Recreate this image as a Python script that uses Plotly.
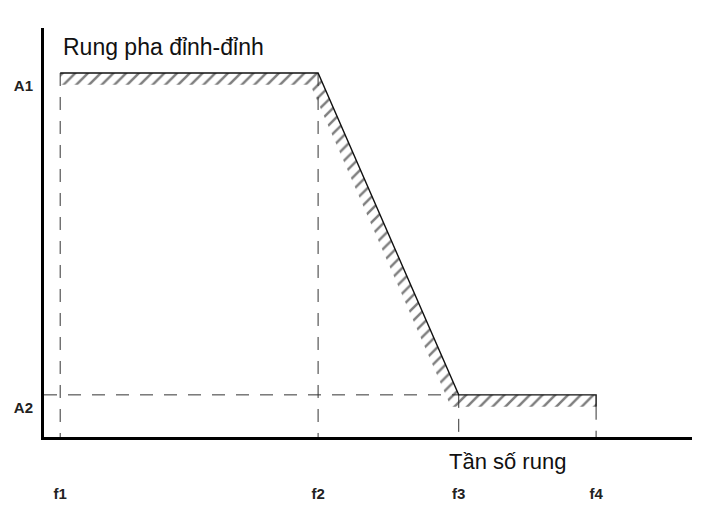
import plotly.graph_objects as go

# --- data ---
freq_labels = ["f1", "f2", "f3", "f4"]
freq_vals = [2.5, 42.3, 64.0, 85.2]
amp_labels = ["A1", "A2"]
amp_vals = [89.0, 10.3]
band = 2.9          # thickness of the hatched tolerance band (y units)
slope_shift = 2.0   # horizontal offset of the hatched band on the sloped part (x units)

f1, f2, f3, f4 = freq_vals
A1, A2 = amp_vals

fig = go.Figure()

# hatched band below the limit curve
frac = band / (A1 - A2) * (f3 - f2)
hx = [f1, f2, f3, f4, f4, f3 - slope_shift + frac, f2 - slope_shift + frac, f1, f1]
hy = [A1, A1, A2, A2, A2 - band, A2 - band, A1 - band, A1 - band, A1]
fig.add_trace(go.Scatter(
    x=hx, y=hy, mode="lines", fill="toself", line=dict(width=0),
    fillcolor="rgba(0,0,0,0)",
    fillpattern=dict(shape="/", size=9, solidity=0.28, fgcolor="#000", bgcolor="white"),
    hoverinfo="skip", showlegend=False))

# dashed guide lines
gx = [f1, f1, None, f2, f2, None, f3, f3, None, f4, f4, None, 0, f3]
gy = [A1, 0, None, A1, 0, None, A2, 0, None, A2 - band, 0, None, A2, A2]
fig.add_trace(go.Scatter(
    x=gx, y=gy, mode="lines", line=dict(color="#333", width=1, dash="13px,11px"),
    hoverinfo="skip", showlegend=False))

# limit curve
fig.add_trace(go.Scatter(
    x=[f1, f2, f3, f4, f4], y=[A1, A1, A2, A2, A2 - band], mode="lines",
    line=dict(color="#111", width=1.4), hoverinfo="skip", showlegend=False))

fig.update_layout(
    width=704, height=519,
    margin=dict(l=44, r=12, t=28, b=82),
    paper_bgcolor="white", plot_bgcolor="white",
    font=dict(family="Liberation Sans, Arial, sans-serif", color="#111"),
    xaxis=dict(range=[0, 100], showgrid=False, zeroline=False, showline=True,
               linecolor="black", linewidth=3, tickvals=freq_vals, ticktext=freq_labels,
               ticks="", tickfont=dict(size=15, color="#222", weight="bold"),
               ticklabelstandoff=41, automargin=False),
    yaxis=dict(range=[0, 100], showgrid=False, zeroline=False, showline=True,
               linecolor="black", linewidth=3, tickvals=amp_vals, ticktext=amp_labels,
               ticks="", tickfont=dict(size=15, color="#222", weight="bold"),
               ticklabelshift=13, ticklabelstandoff=5, automargin=False),
    annotations=[
        dict(text="Rung pha đỉnh-đỉnh", xref="paper", yref="paper", x=0.027, y=0.9535,
             xanchor="left", yanchor="middle", showarrow=False,
             font=dict(size=23, color="#111")),
        dict(text="Tần số rung", xref="paper", yref="paper", x=0.622, y=-0.061,
             xanchor="left", yanchor="middle", showarrow=False,
             font=dict(size=22, color="#111")),
    ],
)

fig.write_html("out.html", config={"displayModeBar": False},
               post_script="document.body.style.margin='0px';")
